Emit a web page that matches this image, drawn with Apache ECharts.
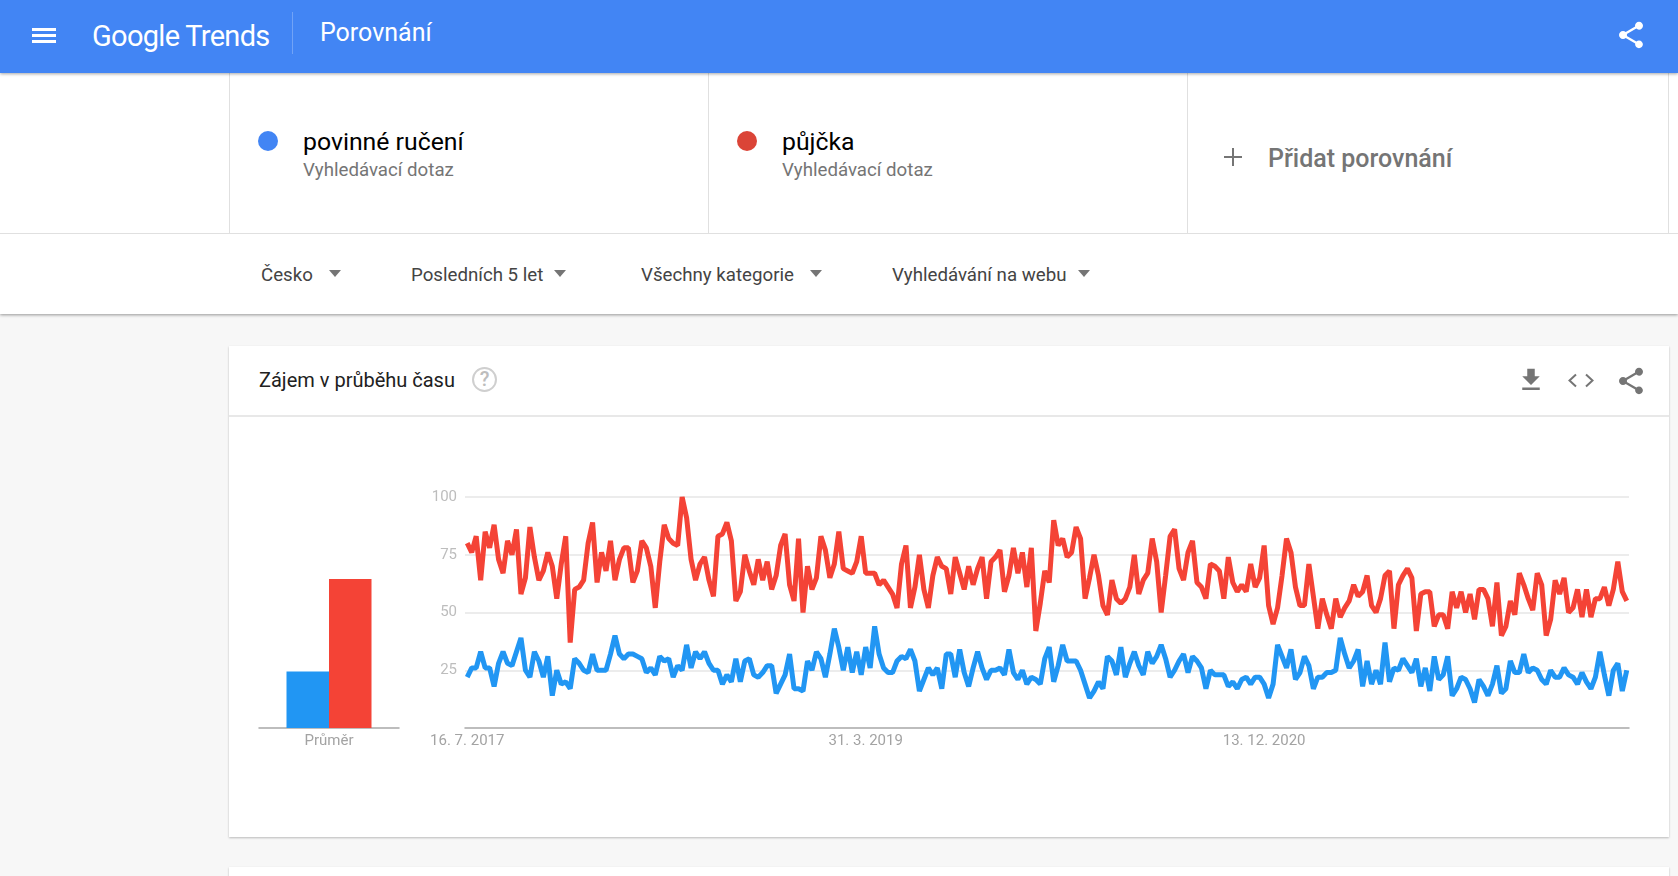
<!DOCTYPE html>
<html lang="cs">
<head>
<meta charset="utf-8">
<title>Google Trends – Porovnání</title>
<script src="https://cdn.jsdelivr.net/npm/echarts@6/dist/echarts.min.js"></script>
<style>
html,body{margin:0;padding:0;width:1678px;height:876px;overflow:hidden;background:#f7f7f7;font-family:Roboto,sans-serif;}
#page{position:absolute;left:0;top:0;width:1678px;height:876px;overflow:hidden;}
.a{position:absolute;white-space:nowrap;}
#chart{position:absolute;left:0;top:0;width:1678px;height:876px;pointer-events:none;}
.tri{position:absolute;width:0;height:0;border-left:6.5px solid transparent;border-right:6.5px solid transparent;border-top:7px solid #757575;top:270px;}
.flt{top:263px;font-size:18.7px;line-height:24px;color:#444;}
.v{position:absolute;top:73px;height:160px;width:1px;background:#e0e0e0;}
</style>
</head>
<body>
<div id="page">
  <!-- filter + terms panel -->
  <div class="a" style="left:0;top:73px;width:1678px;height:241px;background:#fff;box-shadow:0 1px 3px rgba(0,0,0,.4);"></div>
  <div class="a" style="left:0;top:233px;width:1678px;height:1px;background:#e0e0e0;"></div>
  <div class="v" style="left:229px"></div><div class="v" style="left:708px"></div><div class="v" style="left:1187px"></div><div class="v" style="left:1668px"></div>
  <!-- header -->
  <div class="a" style="left:0;top:0;width:1678px;height:73px;background:#4285f4;box-shadow:0 1px 3px rgba(0,0,0,.35);"></div>
  <div class="a" style="left:32px;top:28px;width:24px;height:3px;background:#fff;"></div>
  <div class="a" style="left:32px;top:34px;width:24px;height:3px;background:#fff;"></div>
  <div class="a" style="left:32px;top:40px;width:24px;height:3px;background:#fff;"></div>
  <div class="a" style="left:92px;top:17px;font-size:29px;line-height:38px;color:#fff;letter-spacing:-.7px;" id="logo">Google Trends</div>
  <div class="a" style="left:292px;top:12px;width:1px;height:42px;background:rgba(255,255,255,.25);"></div>
  <div class="a" style="left:320px;top:17px;font-size:25px;line-height:32px;color:#fff;">Porovnání</div>
  <svg class="a" style="left:1615px;top:19px" width="32" height="32" viewBox="0 0 24 24"><path fill="#fff" d="M18 16.08c-.76 0-1.44.3-1.96.77L8.91 12.7c.05-.23.09-.46.09-.7s-.04-.47-.09-.7l7.05-4.11c.54.5 1.25.81 2.04.81 1.66 0 3-1.34 3-3s-1.34-3-3-3-3 1.34-3 3c0 .24.04.47.09.7L8.04 9.81C7.5 9.31 6.79 9 6 9c-1.66 0-3 1.34-3 3s1.34 3 3 3c.79 0 1.5-.31 2.04-.81l7.12 4.16c-.05.21-.08.43-.08.65 0 1.61 1.31 2.92 2.92 2.92 1.61 0 2.92-1.31 2.92-2.92s-1.31-2.92-2.92-2.92z"/></svg>
  <!-- terms -->
  <div class="a" style="left:258px;top:131px;width:20px;height:20px;border-radius:50%;background:#4285f4;"></div>
  <div class="a" style="left:303px;top:126px;font-size:24.8px;line-height:32px;color:#000;">povinné ručení</div>
  <div class="a" style="left:303px;top:158px;font-size:18.7px;line-height:24px;color:#757575;">Vyhledávací dotaz</div>
  <div class="a" style="left:737px;top:131px;width:20px;height:20px;border-radius:50%;background:#db4437;"></div>
  <div class="a" style="left:782px;top:126px;font-size:24.8px;line-height:32px;color:#000;">půjčka</div>
  <div class="a" style="left:782px;top:158px;font-size:18.7px;line-height:24px;color:#757575;">Vyhledávací dotaz</div>
  <div class="a" style="left:1224px;top:156px;width:18px;height:2px;background:#757575;"></div>
  <div class="a" style="left:1232px;top:148px;width:2px;height:18px;background:#757575;"></div>
  <div class="a" style="left:1268px;top:143px;font-size:25px;line-height:32px;font-weight:500;color:#757575;">Přidat porovnání</div>
  <!-- filters -->
  <div class="a flt" style="left:261px">Česko</div><div class="tri" style="left:329px"></div>
  <div class="a flt" style="left:411px">Posledních 5 let</div><div class="tri" style="left:554px"></div>
  <div class="a flt" style="left:641px">Všechny kategorie</div><div class="tri" style="left:810px"></div>
  <div class="a flt" style="left:892px">Vyhledávání na webu</div><div class="tri" style="left:1078px"></div>
  <!-- card -->
  <div class="a" style="left:229px;top:346px;width:1440px;height:491px;background:#fff;box-shadow:0 1px 2px rgba(0,0,0,.25);"></div>
  <div class="a" style="left:229px;top:867px;width:1440px;height:40px;background:#fff;box-shadow:0 1px 2px rgba(0,0,0,.25);"></div>
  <div class="a" style="left:229px;top:415px;width:1440px;height:2px;background:#e8e8e8;"></div>
  <div class="a" style="left:259px;top:367px;font-size:20px;line-height:26px;color:#212121;">Zájem v průběhu času</div>
  <div class="a" style="left:472px;top:367px;width:21px;height:21px;border:2.5px solid #cfcfcf;border-radius:50%;text-align:center;font-size:20px;line-height:21px;color:#bdbdbd;font-weight:500;">?</div>
  <svg class="a" style="left:1516px;top:365px" width="30" height="30" viewBox="0 0 24 24"><path fill="#757575" d="M19 9h-4V3H9v6H5l7 7 7-7zM5 18v2h14v-2H5z"/></svg>
  <svg class="a" style="left:1567px;top:373px" width="28" height="15" viewBox="0 0 28 15"><path fill="none" stroke="#757575" stroke-width="2" d="M9 1.5L2.5 7.5L9 13.5M19 1.5L25.5 7.5L19 13.5"/></svg>
  <svg class="a" style="left:1615px;top:365px" width="32" height="32" viewBox="0 0 24 24"><path fill="#757575" d="M18 16.08c-.76 0-1.44.3-1.96.77L8.91 12.7c.05-.23.09-.46.09-.7s-.04-.47-.09-.7l7.05-4.11c.54.5 1.25.81 2.04.81 1.66 0 3-1.34 3-3s-1.34-3-3-3-3 1.34-3 3c0 .24.04.47.09.7L8.04 9.81C7.5 9.31 6.79 9 6 9c-1.66 0-3 1.34-3 3s1.34 3 3 3c.79 0 1.5-.31 2.04-.81l7.12 4.16c-.05.21-.08.43-.08.65 0 1.61 1.31 2.92 2.92 2.92 1.61 0 2.92-1.31 2.92-2.92s-1.31-2.92-2.92-2.92z"/></svg>
  <div id="chart"></div>
</div>
<script>
const seriesNames = ["povinné ručení", "půjčka"];
const averageCategory = ["Průměr"];
const averageBlue = [24.5];
const averageRed = [64.5];
const valueTicks = [25, 50, 75, 100];
const dateTicks = ["16. 7. 2017", "31. 3. 2019", "13. 12. 2020"];

const pujcka = [
80,76,83,64,85,78,88,73,67,81,75,86,58,65,87,74,64,68,76,70,
56,71,83,37,60,61,64,80,89,63,76,68,81,64,73,78,78,63,68,81,
78,70,52,72,88,82,80,79,100,91,73,64,71,74,64,57,83,84,89,81,
55,59,75,68,62,73,64,72,60,66,79,84,62,55,82,50,70,60,65,83,
77,65,71,85,69,68,67,72,83,67,67,67,62,64,61,58,52,71,79,52,
61,75,60,52,66,74,70,69,58,74,67,60,70,62,69,74,56,72,74,77,
59,66,78,67,76,61,78,42,54,68,63,90,79,82,74,76,87,82,56,65,
75,66,53,49,64,56,54,56,61,75,58,64,67,82,72,50,66,83,86,69,
64,76,81,63,61,56,71,70,68,56,74,63,59,62,59,71,61,65,79,53,
45,52,66,82,76,61,53,53,71,57,43,56,49,43,56,48,52,55,62,57,
59,66,53,50,56,66,68,43,62,66,69,65,42,58,59,59,44,49,49,43,
59,52,59,50,58,47,60,60,56,44,63,40,44,55,49,67,62,56,51,67,
62,40,47,64,58,65,50,52,60,48,60,48,56,56,61,53,60,72,59,55
];

const povinneRuceni = [
22,26,26,33,26,26,18,28,33,28,27,33,39,25,22,33,29,22,31,14,
25,19,20,17,30,28,25,24,32,25,25,25,32,40,32,30,32,32,31,30,
24,26,23,31,29,30,22,27,25,36,26,33,30,33,28,25,25,19,23,20,
30,20,29,30,23,22,24,27,27,15,19,23,32,17,17,16,29,25,33,30,
22,32,43,35,25,35,24,33,23,35,26,44,32,26,24,24,29,31,30,34,
29,16,21,26,23,26,17,32,32,22,34,24,18,26,33,26,21,25,25,26,
23,34,24,21,25,19,22,21,19,30,35,20,27,36,29,29,29,25,19,13,
16,20,17,31,29,23,35,22,28,33,27,23,33,28,31,36,30,22,25,29,
32,24,31,29,26,17,25,23,23,23,18,20,17,21,22,19,22,22,19,13,
19,36,31,26,34,21,24,31,27,17,22,22,24,24,25,39,32,26,29,34,
18,29,19,25,19,37,20,26,25,30,27,24,30,18,26,16,31,21,23,31,
14,17,22,21,17,11,21,18,14,19,27,15,17,29,24,24,32,24,26,25,
21,19,25,22,22,26,23,22,19,24,20,17,22,33,23,14,25,28,16,25
];

// Weekly Sundays from the first date tick, one category per value.
const weeks = povinneRuceni.map((_, i) => {
  const d = new Date(Date.UTC(2017, 6, 16 + i * 7));
  return d.getUTCDate() + ". " + (d.getUTCMonth() + 1) + ". " + d.getUTCFullYear();
});

const chart = echarts.init(document.getElementById("chart"));
const font = "Roboto, sans-serif";
chart.setOption({
  animation: false,
  backgroundColor: "transparent",
  grid: [
    { left: 259, top: 497, width: 140, height: 231 },
    { left: 465, top: 497, width: 1164, height: 231 }
  ],
  xAxis: [
    { gridIndex: 0, type: "category", data: averageCategory,
      axisLine: { lineStyle: { color: "#a8a8a8", width: 1.5 } }, axisTick: { show: false },
      axisLabel: { color: "#a3a3a3", fontSize: 15, fontFamily: font, margin: 6 } },
    { gridIndex: 1, type: "category", data: weeks, boundaryGap: true,
      axisLine: { lineStyle: { color: "#a8a8a8", width: 1.5 } }, axisTick: { show: false },
      axisLabel: { color: "#a3a3a3", fontSize: 15, fontFamily: font, margin: 6, hideOverlap: false,
        interval: (i, v) => dateTicks.includes(v) } }
  ],
  yAxis: [
    { gridIndex: 0, type: "value", min: 0, max: 100, show: false },
    { gridIndex: 1, type: "value", min: 0, max: 100, interval: 25,
      axisLine: { show: false }, axisTick: { show: false },
      splitLine: { showMinLine: false, lineStyle: { color: "#e6e6e6", width: 1.5 } },
      axisLabel: { color: "#bdbdbd", fontSize: 15, fontFamily: font, margin: 8, padding: [1, 0, 0, 0],
        formatter: v => valueTicks.includes(v) ? String(v) : "" } }
  ],
  series: [
    { name: seriesNames[0], type: "bar", xAxisIndex: 0, yAxisIndex: 0, data: averageBlue,
      barWidth: 42.5, barGap: 0, itemStyle: { color: "#2196f3" } },
    { name: seriesNames[1], type: "bar", xAxisIndex: 0, yAxisIndex: 0, data: averageRed,
      barWidth: 42.5, barGap: 0, itemStyle: { color: "#f44336" } },
    { name: seriesNames[0], type: "line", xAxisIndex: 1, yAxisIndex: 1, data: povinneRuceni,
      symbol: "none", lineStyle: { color: "#2196f3", width: 5, join: "bevel" } },
    { name: seriesNames[1], type: "line", xAxisIndex: 1, yAxisIndex: 1, data: pujcka,
      symbol: "none", lineStyle: { color: "#f44336", width: 5, join: "bevel" } }
  ]
});
</script>
</body>
</html>
